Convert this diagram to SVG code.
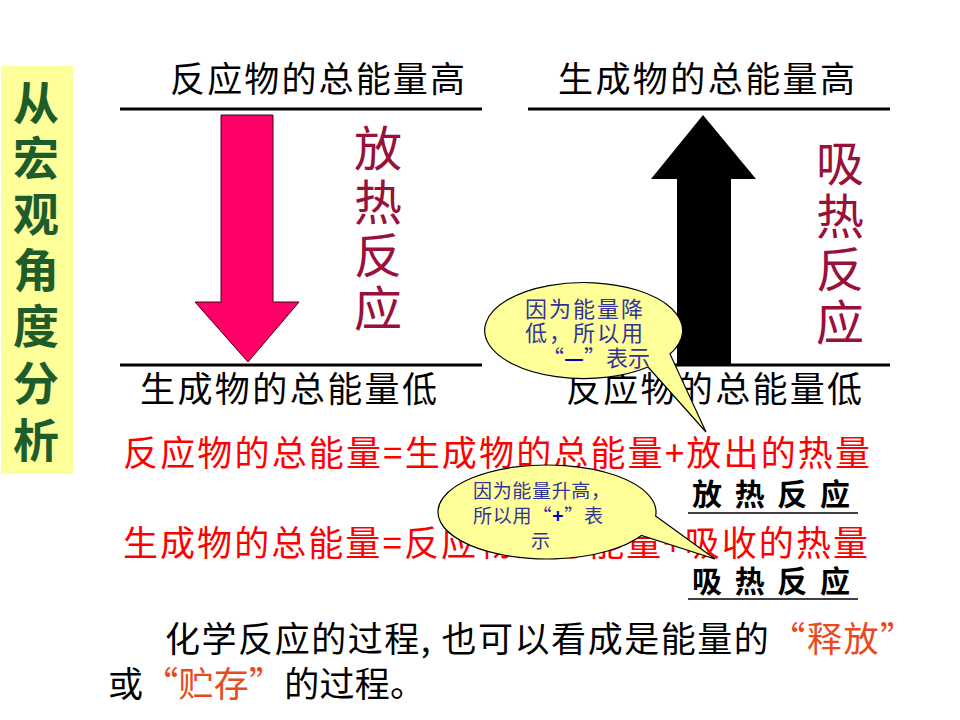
<svg xmlns="http://www.w3.org/2000/svg" width="960" height="720" viewBox="0 0 960 720">
<style>
.t{font-family:"Noto Sans CJK SC","Liberation Serif",sans-serif;fill:#000;}
.lv{font-size:35px;}
.red{fill:#FF0000;font-size:35px;}
.dr{fill:#99103A;font-size:48px;}
.kai{font-size:30px;font-weight:bold;}
.blue{fill:#333399;}
.side{font-family:"Noto Sans CJK SC",sans-serif;font-weight:bold;font-size:46px;fill:#1E5C2C;}
.ln{stroke:#000;stroke-width:3;}
.bub{fill:#FFFF99;stroke:#000;stroke-width:1.2;}
.or{fill:#E84A1E;}
</style>
<rect width="960" height="720" fill="#fff"/>
<g id="side">
<rect x="1" y="66" width="72" height="408" fill="#FFFF99"/>
<text class="side" x="36" text-anchor="middle"><tspan x="36" y="120">从</tspan><tspan x="36" y="175">宏</tspan><tspan x="36" y="231">观</tspan><tspan x="36" y="287">角</tspan><tspan x="36" y="343">度</tspan><tspan x="36" y="400">分</tspan><tspan x="36" y="457">析</tspan></text>
</g>
<g id="levels">
<line class="ln" x1="120" y1="109" x2="482" y2="109"/>
<line class="ln" x1="528" y1="109" x2="890" y2="109"/>
<line class="ln" x1="120" y1="365" x2="482" y2="365"/>
<line class="ln" x1="528" y1="365" x2="890" y2="365"/>
<text class="t lv" x="170" y="92" textLength="295" lengthAdjust="spacing">反应物的总能量高</text>
<text class="t lv" x="558" y="92" textLength="297" lengthAdjust="spacing">生成物的总能量高</text>
<text class="t lv" x="140" y="402" textLength="297" lengthAdjust="spacing">生成物的总能量低</text>
<text class="t lv" x="566" y="402" textLength="296" lengthAdjust="spacing">反应物的总能量低</text>
</g>
<g id="arrows">
<polygon points="221,115 273,115 273,302 299,302 248,362 195,302 221,302" fill="#FF0066" stroke="#400020" stroke-width="1"/>
<polygon points="703,115 756,179 731,179 731,364 677,364 677,179 651,179" fill="#000"/>
</g>
<g id="labels">
<text class="t dr" x="378" text-anchor="middle"><tspan x="378" y="166">放</tspan><tspan x="378" y="220">热</tspan><tspan x="378" y="273">反</tspan><tspan x="378" y="326">应</tspan></text>
<text class="t dr" x="840" text-anchor="middle"><tspan x="840" y="181">吸</tspan><tspan x="840" y="234">热</tspan><tspan x="840" y="287">反</tspan><tspan x="840" y="340">应</tspan></text>
</g>
<g id="equations">
<text class="t red" x="123" y="466" textLength="747" lengthAdjust="spacing">反应物的总能量=生成物的总能量+放出的热量</text>
<text class="t red" x="123" y="556" textLength="745" lengthAdjust="spacing">生成物的总能量=反应物的总能量+吸收的热量</text>
<text class="t kai" x="692" y="505" textLength="158" lengthAdjust="spacing">放热反应</text>
<line x1="688" y1="513" x2="858" y2="513" stroke="#000" stroke-width="1.5"/>
<text class="t kai" x="692" y="592" textLength="158" lengthAdjust="spacing">吸热反应</text>
<line x1="688" y1="599" x2="858" y2="599" stroke="#000" stroke-width="1.5"/>
</g>
<g id="callout1">
<path class="bub" d="M648,367 L706,432 L670,354 A99,48 0 1 0 648,367 Z"/>
<text class="t blue" style="font-size:22px"><tspan x="525" y="317" textLength="118" lengthAdjust="spacing">因为能量降</tspan><tspan x="525" y="341" textLength="118" lengthAdjust="spacing">低，所以用</tspan><tspan x="542" y="366">“<tspan font-weight="bold" fill="#0000CC">—</tspan>”表示</tspan></text>
</g>
<g id="callout2">
<path class="bub" d="M655.6,516.1 L715,559 L641.4,535.5 A109,47 0 1 1 655.6,516.1 Z"/>
<text class="t blue" style="font-size:19px"><tspan x="473" y="498" textLength="137" lengthAdjust="spacing">因为能量升高，</tspan><tspan x="473" y="523" textLength="130" lengthAdjust="spacing">所以用“<tspan font-weight="bold" fill="#0000CC">+</tspan>”表</tspan><tspan x="531" y="548">示</tspan></text>
</g>
<g id="summary">
<text class="t lv" x="165" y="652" textLength="750" lengthAdjust="spacing">化学反应的过程, 也可以看成是能量的<tspan class="or">“释放”</tspan></text>
<text class="t lv" x="108" y="697" textLength="317" lengthAdjust="spacing">或<tspan class="or">“贮存”</tspan>的过程。</text>
</g>
</svg>
